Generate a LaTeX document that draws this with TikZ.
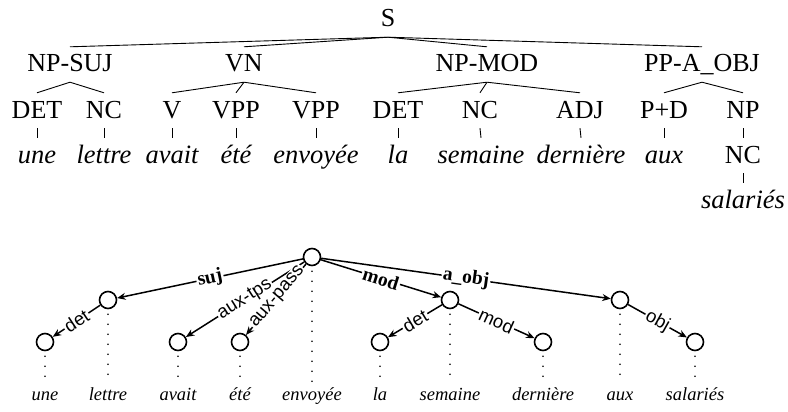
\documentclass[tikz,border=0pt]{standalone}
\usepackage{fontspec}
\setmainfont{Liberation Serif}
\newfontfamily\lsans{Liberation Sans}
\usetikzlibrary{arrows.meta}
\begin{document}
\begin{tikzpicture}[x=1pt,y=1pt,
  tn/.style={anchor=base, font=\fontsize{26}{30}\selectfont, text height=17pt, text depth=2pt, inner xsep=0pt, inner ysep=8pt},
  tw/.style={tn, font=\fontsize{26.5}{30}\selectfont\itshape},
  tl/.style={line width=0.9pt},
  circ/.style={circle, draw, line width=1.6pt, minimum size=17pt, inner sep=0pt},
  arr/.style={line width=1.5pt, -{Stealth[length=8.5pt,width=7pt]}},
  lab/.style={midway, sloped, fill=white, inner sep=1.3pt, font=\lsans\fontsize{18.5}{20}\selectfont},
  blab/.style={midway, sloped, fill=white, inner sep=1.3pt, font=\bfseries\fontsize{19.5}{21}\selectfont},
  dots/.style={line width=1.7pt, line cap=round, dash pattern=on 0pt off 10pt},
  bw/.style={anchor=base, font=\itshape\fontsize{18.5}{20}\selectfont, text height=12pt, text depth=0pt, inner sep=4pt}
]
\useasboundingbox (0,0) rectangle (788,-412);

% ---------- constituency tree ----------
\node[tn] (S) at (388,-27) {S};
\node[tn] (npsuj) at (70,-72) {NP-SUJ};
\node[tn] (vn) at (244,-72) {VN};
\node[tn] (npmod) at (487,-72) {NP-MOD};
\node[tn] (ppaobj) at (702,-72) {PP-A\_OBJ};

\node[tn] (det1) at (37,-118) {DET};
\node[tn] (nc1) at (104,-118) {NC};
\node[tn] (v1) at (172,-118) {V};
\node[tn] (vpp1) at (236,-118) {VPP};
\node[tn] (vpp2) at (316,-118) {VPP};
\node[tn] (det2) at (398,-118) {DET};
\node[tn] (nc2) at (480,-118) {NC};
\node[tn] (adj) at (580,-118) {ADJ};
\node[tn] (pd) at (664,-118) {P+D};
\node[tn] (np) at (743,-118) {NP};

\node[tw] (w1) at (37,-163) {une};
\node[tw] (w2) at (104,-163) {lettre};
\node[tw] (w3) at (172,-163) {avait};
\node[tw] (w4) at (236,-163) {été};
\node[tw] (w5) at (316,-163) {envoyée};
\node[tw] (w6) at (398,-163) {la};
\node[tw] (w7) at (481,-163) {semaine};
\node[tw] (w8) at (581,-163) {dernière};
\node[tw] (w9) at (664,-163) {aux};
\node[tn] (nc3) at (743,-163) {NC};
\node[tw] (w10) at (743,-208) {salariés};

\foreach \c in {npsuj,vn,npmod,ppaobj} \draw[tl] (S.south) -- (\c.north);
\foreach \c in {det1,nc1} \draw[tl] (npsuj.south) -- (\c.north);
\foreach \c in {v1,vpp1,vpp2} \draw[tl] (vn.south) -- (\c.north);
\foreach \c in {det2,nc2,adj} \draw[tl] (npmod.south) -- (\c.north);
\foreach \c in {pd,np} \draw[tl] (ppaobj.south) -- (\c.north);
\foreach \a/\b in {det1/w1,nc1/w2,v1/w3,vpp1/w4,vpp2/w5,det2/w6,nc2/w7,adj/w8,pd/w9,np/nc3,nc3/w10}
  \draw[tl] (\a.south) -- (\b.north);

% ---------- dependency graph ----------
\node[circ] (c1) at (45,-342) {};
\node[circ] (c2) at (108,-300) {};
\node[circ] (c3) at (178,-342) {};
\node[circ] (c4) at (240,-342) {};
\node[circ] (c5) at (312,-257) {};
\node[circ] (c6) at (380,-342) {};
\node[circ] (c7) at (450,-300) {};
\node[circ] (c8) at (543,-342) {};
\node[circ] (c9) at (620,-300) {};
\node[circ] (c10) at (695,-342) {};

\node[bw] (b1) at (45,-400) {une};
\node[bw] (b2) at (108,-400) {lettre};
\node[bw] (b3) at (178,-400) {avait};
\node[bw] (b4) at (240,-400) {été};
\node[bw] (b5) at (312,-400) {envoyée};
\node[bw] (b6) at (380,-400) {la};
\node[bw] (b7) at (450,-400) {semaine};
\node[bw] (b8) at (543,-400) {dernière};
\node[bw] (b9) at (620,-400) {aux};
\node[bw] (b10) at (695,-400) {salariés};

\foreach \i in {1,...,10}
  \draw[dots] ([yshift=-5pt]c\i.south) -- (b\i.north);

\draw[arr] (c5) -- node[blab] {suj} (c2);
\draw[arr] (c2) -- node[lab] {det} (c1);
\draw[arr] (c5) -- node[lab] {aux-tps} (c3);
\draw[arr] (c5) -- node[lab, pos=0.47] {aux-pass} (c4);
\draw[arr] (c5) -- node[blab] {mod} (c7);
\draw[arr] (c5) -- node[blab] {a\_obj} (c9);
\draw[arr] (c7) -- node[lab] {det} (c6);
\draw[arr] (c7) -- node[lab] {mod} (c8);
\draw[arr] (c9) -- node[lab] {obj} (c10);
\end{tikzpicture}
\end{document}
